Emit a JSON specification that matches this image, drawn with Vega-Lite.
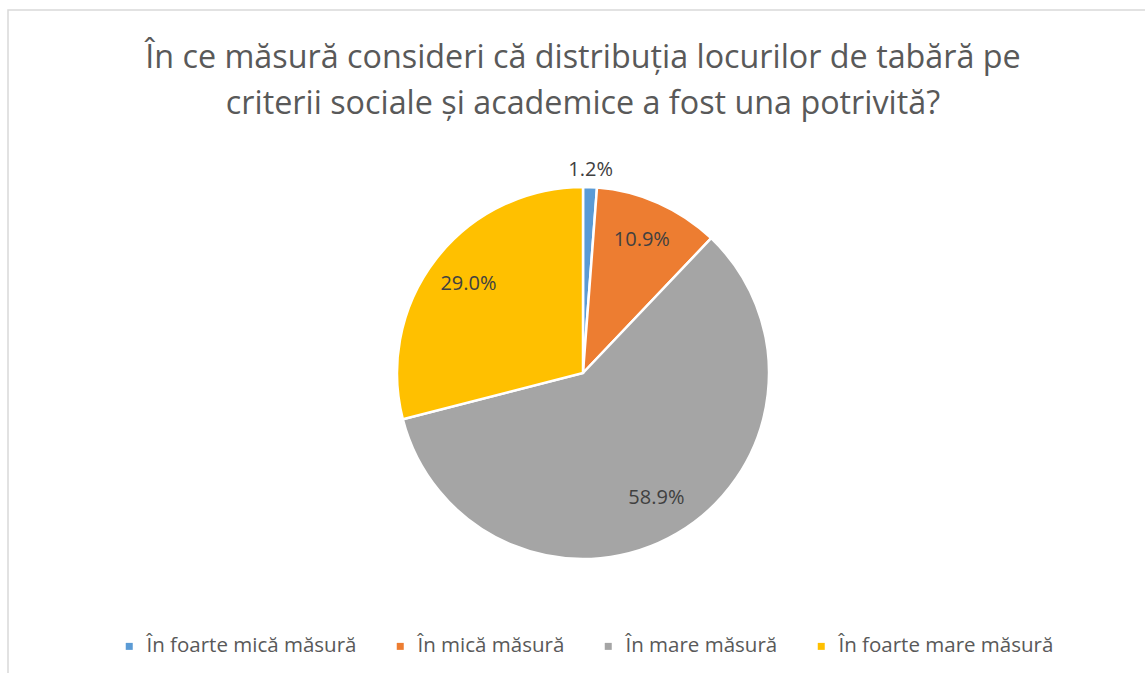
{
  "$schema": "https://vega.github.io/schema/vega-lite/v6.json",
  "width": 1150,
  "height": 726,
  "autosize": {"type": "none"},
  "padding": {"left": 8, "top": 10, "right": 0, "bottom": 0},
  "background": "white",
  "view": {"stroke": "#d9d9d9", "strokeWidth": 1.5},
  "config": {"view": {"stroke": "#d9d9d9", "strokeWidth": 1.5}},
  "title": {
    "text": ["În ce măsură consideri că distribuția locurilor de tabără pe", "criterii sociale și academice a fost una potrivită?"],
    "orient": "top",
    "anchor": "middle",
    "offset": -110,
    "font": "Open Sans",
    "fontSize": 32.3,
    "fontWeight": "normal",
    "color": "#595959",
    "lineHeight": 46
  },
  "data": {
    "values": [
      {"category": "În foarte mică măsură", "share": 0.012, "order": 1},
      {"category": "În mică măsură", "share": 0.109, "order": 2},
      {"category": "În mare măsură", "share": 0.589, "order": 3},
      {"category": "În foarte mare măsură", "share": 0.29, "order": 4}
    ]
  },
  "layer": [
    {
      "mark": {"type": "arc", "outerRadius": 186, "stroke": "white", "strokeWidth": 2.5},
      "encoding": {
        "theta": {"field": "share", "type": "quantitative", "stack": true},
        "order": {"field": "order", "type": "ordinal"},
        "color": {
          "field": "category",
          "type": "nominal",
          "scale": {
            "domain": ["În foarte mică măsură", "În mică măsură", "În mare măsură", "În foarte mare măsură"],
            "range": ["#5b9bd5", "#ed7d31", "#a5a5a5", "#ffc000"]
          },
          "legend": {
            "orient": "none",
            "legendX": 111,
            "legendY": 626,
            "direction": "horizontal",
            "title": null,
            "symbolType": "square",
            "symbolSize": 49,
            "symbolStrokeWidth": 0,
            "labelFont": "Open Sans",
            "labelFontSize": 20.5,
            "labelColor": "#595959",
            "labelOffset": 7,
            "columnPadding": 33,
            "labelLimit": 400
          }
        }
      }
    },
    {
      "mark": {"type": "text", "radius": 145, "font": "Open Sans", "fontSize": 20, "fill": "#404040"},
      "encoding": {
        "theta": {"field": "share", "type": "quantitative", "stack": true},
        "order": {"field": "order", "type": "ordinal"},
        "text": {"condition": {"test": "datum.share < 0.05", "value": ""}, "field": "share", "format": ".1%"}
      }
    },
    {
      "mark": {"type": "text", "radius": 203, "font": "Open Sans", "fontSize": 20, "fill": "#404040"},
      "encoding": {
        "theta": {"field": "share", "type": "quantitative", "stack": true},
        "order": {"field": "order", "type": "ordinal"},
        "text": {"condition": {"test": "datum.share >= 0.05", "value": ""}, "field": "share", "format": ".1%"}
      }
    }
  ]
}
